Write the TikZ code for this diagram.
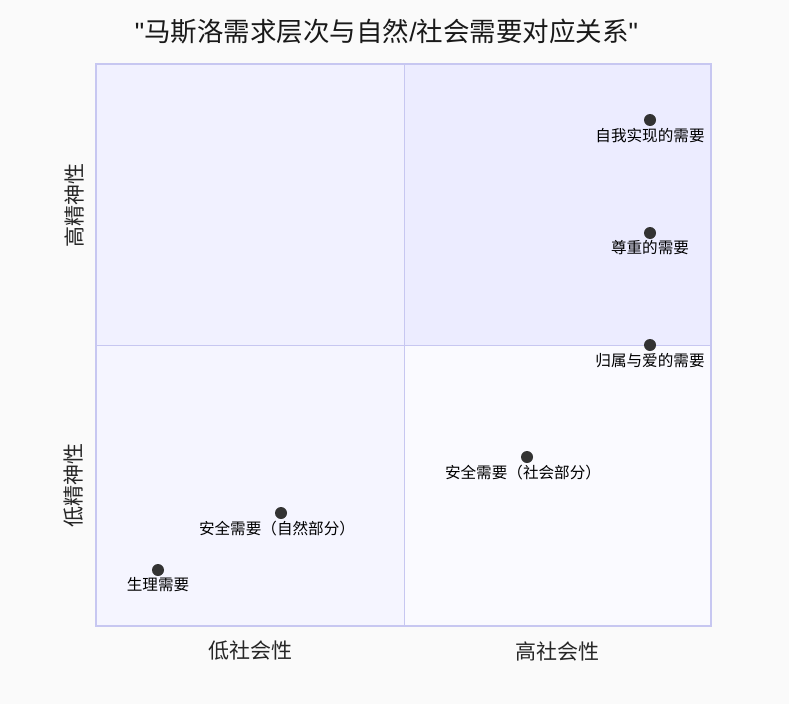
\documentclass[tikz,border=0pt]{standalone}
\usepackage{fontspec}
\setmainfont{Noto Sans CJK SC}
\newfontfamily\latf{Liberation Sans}
\definecolor{bgc}{HTML}{FAFAFA}
\definecolor{qa}{HTML}{ECECFF}
\definecolor{qb}{HTML}{F1F1FF}
\definecolor{qc}{HTML}{F5F5FF}
\definecolor{qd}{HTML}{FAFAFF}
\definecolor{edge}{HTML}{C7C7F1}
\definecolor{ptc}{HTML}{333333}
\begin{document}
\begin{tikzpicture}[x=1pt,y=-1pt,
  pt/.style={circle,fill=ptc,inner sep=0pt,minimum size=12pt},
  lbl/.style={font=\fontsize{15.6}{18}\selectfont,text=black,inner sep=0pt},
  axl/.style={font=\fontsize{21}{24}\selectfont,text=black!85,inner sep=0pt}]
\fill[bgc] (0,0) rectangle (789,704);
\useasboundingbox (0,0) rectangle (789,704);
\fill[qb] (96,64) rectangle (404,345);
\fill[qa] (404,64) rectangle (711,345);
\fill[qc] (96,345) rectangle (404,626);
\fill[qd] (404,345) rectangle (711,626);
\draw[edge,line width=0.8pt] (404,64) -- (404,626);
\draw[edge,line width=0.8pt] (96,345) -- (711,345);
\draw[edge,line width=2pt] (96,64) rectangle (711,626);
\node[font=\fontsize{26.5}{30}\selectfont,text=black!90,inner sep=0pt] (title) at (386.5,32) {{\latf\symbol{34}}马斯洛需求层次与自然{\latf/}社会需要对应关系{\latf\symbol{34}}};
\node[axl] (xl1) at (250,651) {低社会性};
\node[axl] (xl2) at (557,651) {高社会性};
\node[axl,rotate=90] (yl1) at (74,485) {低精神性};
\node[axl,rotate=90] (yl2) at (74,205) {高精神性};
\node[pt] (p1) at (650,120) {};
\node[lbl] (l1) at (650,136) {自我实现的需要};
\node[pt] (p2) at (650,233) {};
\node[lbl] (l2) at (650,248) {尊重的需要};
\node[pt] (p3) at (650,345) {};
\node[lbl] (l3) at (650,361) {归属与爱的需要};
\node[pt] (p4) at (527,457) {};
\node[lbl] (l4) at (523,473) {安全需要（社会部分）};
\node[pt] (p5) at (281,513) {};
\node[lbl] (l5) at (277,529) {安全需要（自然部分）};
\node[pt] (p6) at (158,570) {};
\node[lbl] (l6) at (158,585) {生理需要};
\end{tikzpicture}
\end{document}
